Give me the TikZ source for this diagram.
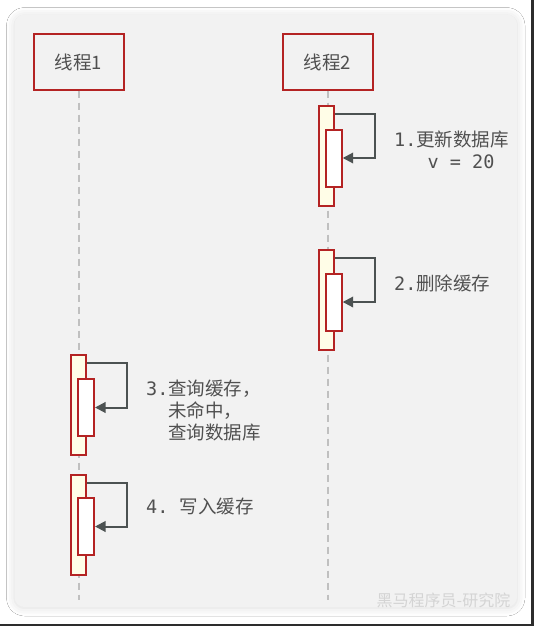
\documentclass[tikz,border=0pt]{standalone}
\usepackage{fontspec}
\setmonofont{DejaVu Sans Mono}
\newfontfamily\cjk{Noto Sans CJK SC}
\usetikzlibrary{arrows.meta,shadows.blur}

\definecolor{threadred}{RGB}{180,35,35}
\definecolor{actyellow}{RGB}{255,253,231}
\definecolor{labelgrey}{RGB}{80,80,80}
\definecolor{msggrey}{RGB}{76,82,82}
\definecolor{lifegrey}{RGB}{192,192,192}
\definecolor{panelgrey}{RGB}{242,242,242}
\definecolor{markgrey}{RGB}{212,212,212}
\definecolor{edgedark}{RGB}{45,45,45}

\begin{document}
\begin{tikzpicture}[x=1pt,y=-1pt]
  \tikzstyle{thread}=[draw=threadred, line width=2pt, minimum width=90pt, minimum height=55pt, inner sep=0pt, text=labelgrey, font=\cjk\fontsize{18.5}{22}\selectfont]
  \tikzstyle{act}=[draw=threadred, fill=actyellow, line width=2pt, minimum width=15pt, minimum height=100pt, inner sep=0pt]
  \tikzstyle{sub}=[act, fill=white, minimum width=16pt, minimum height=57pt]
  \tikzstyle{life}=[draw=lifegrey, line width=2pt, dash pattern=on 7pt off 5pt]
  \tikzstyle{msg}=[draw=msggrey, line width=2pt, -{Triangle[length=10.5pt,width=10.5pt]}]
  \tikzstyle{note}=[anchor=west, inner sep=0pt, align=left, text=labelgrey, font=\cjk\fontsize{18.5}{22}\selectfont]

  \useasboundingbox (0,0) rectangle (534,626);
  \fill[white] (0,0) rectangle (534,626);
  \fill[edgedark] (531,0) rectangle (534,626);
  \fill[edgedark] (0,624) rectangle (534,626);

  % panel
  \fill[panelgrey, rounded corners=10pt, blur shadow={shadow xshift=0pt, shadow yshift=-1pt, shadow blur radius=8pt, shadow blur extra rounding=4pt, shadow opacity=14}]
    (14.5,14.5) rectangle (517,607);

  \node[thread] (t1) at (78.5, 62) {线程1};
  \node[thread] (t2) at (327.5,62) {线程2};

  \coordinate (e1) at (78.5, 600);
  \coordinate (e2) at (327.5,600);
  \draw[life] (t1) -- (e1);
  \draw[life] (t2) -- (e2);

  \node[act] (a1) at (326.5,156) {};
  \node[sub] (i1) at (333.7,158) {};
  \node[act] (a2) at (326.5,300) {};
  \node[sub] (i2) at (333.7,302) {};
  \node[act] (a3) at (78.3, 405) {};
  \node[sub] (i3) at (86,   407.5) {};
  \node[act] (a4) at (78.3, 525) {};
  \node[sub] (i4) at (86,   526.5) {};

  \draw[msg] ([yshift=-8.5pt]a1.north east) -- ++(40,0) |- (i1.east);
  \draw[msg] ([yshift=-8.5pt]a2.north east) -- ++(40,0) |- (i2.east);
  \draw[msg] ([yshift=-8.5pt]a3.north east) -- ++(40,0) |- (i3.east);
  \draw[msg] ([yshift=-8.5pt]a4.north east) -- ++(40,0) |- (i4.east);

  \node[note] (n1) at (394,150) {{\ttfamily 1.}更新数据库\\{\ttfamily\ \ \ v = 20}};
  \node[note] (n2) at (394,283) {{\ttfamily 2.}删除缓存};
  \node[note] (n3) at (146,411) {{\ttfamily 3.}查询缓存，\\\phantom{\ttfamily 3.}未命中，\\\phantom{\ttfamily 3.}查询数据库};
  \node[note] (n4) at (146,506.7) {{\ttfamily 4. }写入缓存};

  \node[font=\cjk\fontsize{16}{16}\selectfont, text=markgrey, inner sep=0pt] (wm) at (443.5,600) {黑马程序员-研究院};
\end{tikzpicture}
\end{document}
